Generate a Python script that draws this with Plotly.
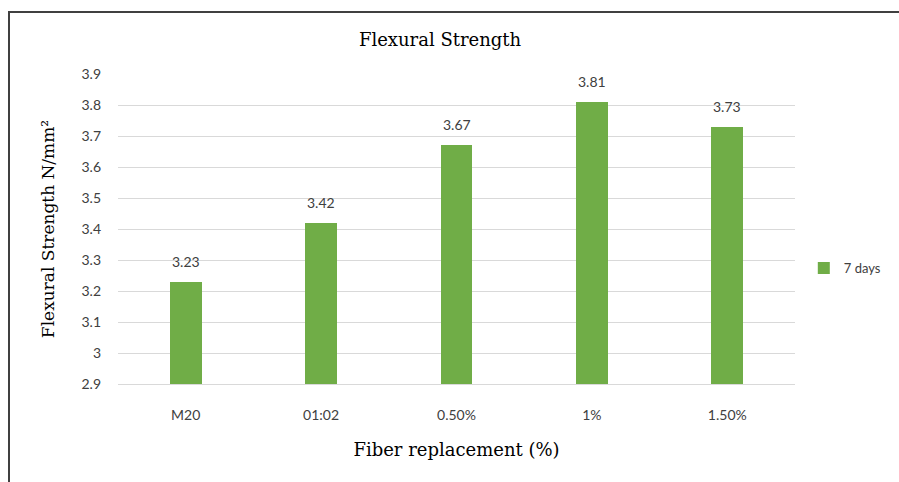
import plotly.graph_objects as go

categories = ["M20", "01:02", "0.50%", "1%", "1.50%"]
strength_7days = [3.23, 3.42, 3.67, 3.81, 3.73]
y_ticks = [2.9, 3.0, 3.1, 3.2, 3.3, 3.4, 3.5, 3.6, 3.7, 3.8, 3.9]
y_tick_labels = ["2.9", "3", "3.1", "3.2", "3.3", "3.4", "3.5", "3.6", "3.7", "3.8", "3.9"]
axis_floor = 2.9

GREEN = "#70AD47"
SANS = "Lato, 'Liberation Sans', sans-serif"
SERIF = "'DejaVu Serif', 'Liberation Serif', serif"

fig = go.Figure()
# bars rise from the axis floor up to each measured value
fig.add_trace(go.Bar(
    x=categories,
    y=[v - axis_floor for v in strength_7days],
    base=axis_floor,
    name="7 days",
    marker=dict(color=GREEN, line=dict(width=0)),
    width=0.235,
))

for cat, val in zip(categories, strength_7days):
    fig.add_annotation(
        x=cat, y=val, text=f"{val:.2f}", showarrow=False,
        yanchor="bottom", yshift=10,
        font=dict(family=SANS, size=14, color="#404040"),
    )

fig.update_layout(
    width=899, height=482,
    margin=dict(l=118, r=104, t=74, b=98, autoexpand=False),
    paper_bgcolor="white", plot_bgcolor="white",
    title=dict(text="Flexural Strength", x=0.4895, xanchor="center",
               y=1 - 40 / 482, yanchor="middle",
               font=dict(family=SERIF, size=18, color="#000000")),
    showlegend=True,
    legend=dict(x=1.013, y=0.374, xanchor="left", yanchor="middle",
                font=dict(family=SANS, size=13, color="#404040"),
                itemwidth=30, bgcolor="rgba(0,0,0,0)"),
    bargap=0,
    xaxis=dict(
        showgrid=False, showline=True, linecolor="#d9d9d9", linewidth=1,
        ticks="", tickfont=dict(family=SANS, size=14, color="#404040"),
        ticklabelstandoff=18,
        title=dict(text="Fiber replacement (%)", standoff=21,
                   font=dict(family=SERIF, size=18, color="#000000")),
    ),
    yaxis=dict(
        range=[2.9, 3.9], tickvals=y_ticks, ticktext=y_tick_labels,
        showgrid=True, gridcolor="#d9d9d9", gridwidth=1, zeroline=False,
        showline=False, ticks="", ticklabelstandoff=16,
        tickfont=dict(family=SANS, size=14, color="#404040"),
        title=dict(text="Flexural Strength N/mm²", standoff=22,
                   font=dict(family=SERIF, size=17, color="#000000")),
    ),
    shapes=[dict(
        type="rect", xref="paper", yref="paper",
        x0=(9 - 118) / 677, x1=1.3, y0=-0.5, y1=(384 - 12) / 310,
        line=dict(color="#404040", width=2), fillcolor="rgba(0,0,0,0)",
        layer="below",
    )],
)

fig.write_html("out.html")
